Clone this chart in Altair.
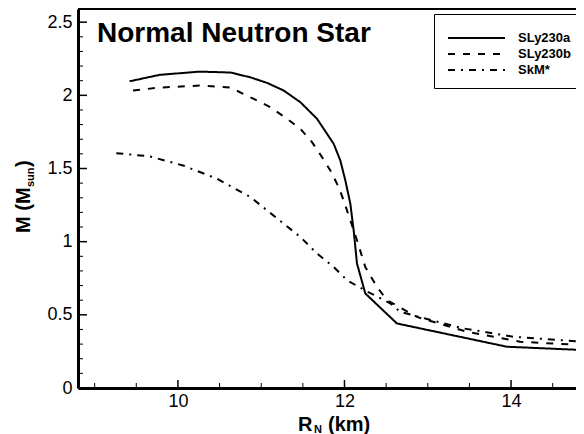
import altair as alt
import pandas as pd

# ---------------- data ----------------
series_names = ["SLy230a", "SLy230b", "SkM*"]

sly230a_R = [9.42, 9.78, 10.26, 10.63, 10.87, 11.07, 11.27, 11.47, 11.67, 11.87, 11.95, 12.01, 12.07, 12.11, 12.15, 12.25, 12.63, 13.95, 14.88]
sly230a_M = [2.096, 2.140, 2.162, 2.156, 2.123, 2.085, 2.033, 1.953, 1.840, 1.669, 1.555, 1.419, 1.260, 1.078, 0.851, 0.646, 0.441, 0.282, 0.259]

sly230b_R = [9.46, 9.78, 10.26, 10.63, 10.91, 11.11, 11.31, 11.47, 11.61, 11.73, 11.83, 11.93, 11.99, 12.07, 12.15, 12.25, 12.39, 12.51, 12.87, 13.47, 14.11, 14.88]
sly230b_M = [2.033, 2.053, 2.067, 2.053, 1.976, 1.919, 1.840, 1.771, 1.680, 1.578, 1.487, 1.373, 1.282, 1.146, 1.010, 0.827, 0.691, 0.600, 0.486, 0.384, 0.316, 0.293]

skm_R = [9.26, 9.66, 10.06, 10.47, 10.87, 11.27, 11.47, 11.67, 11.87, 12.03, 12.23, 12.55, 12.67, 12.99, 13.43, 14.03, 14.87]
skm_M = [1.605, 1.583, 1.521, 1.430, 1.305, 1.123, 1.032, 0.919, 0.827, 0.737, 0.672, 0.578, 0.520, 0.472, 0.407, 0.350, 0.316]

x_major = [10, 12, 14]
x_minor = [9, 9.5, 10.5, 11, 11.5, 12.5, 13, 13.5, 14.5]
y_major = [0, 0.5, 1, 1.5, 2, 2.5]
y_minor = [0.1, 0.2, 0.3, 0.4, 0.6, 0.7, 0.8, 0.9, 1.1, 1.2, 1.3, 1.4,
           1.6, 1.7, 1.8, 1.9, 2.1, 2.2, 2.3, 2.4]

rows = []
for name, R, M in [("SLy230a", sly230a_R, sly230a_M),
                   ("SLy230b", sly230b_R, sly230b_M),
                   ("SkM*", skm_R, skm_M)]:
    for i, (r, m) in enumerate(zip(R, M)):
        rows.append({"series": name, "R": r, "M": m, "i": i})
df = pd.DataFrame(rows)

FONT = "Liberation Sans"
W, H = 498, 379

x_scale = alt.Scale(domain=[8.8, 14.78], nice=False, zero=False)
y_scale = alt.Scale(domain=[0, 2.59], nice=False, zero=False)

x_axis = alt.Axis(values=x_major, title=None, tickSize=0, labelPadding=4,
                  domainWidth=3, domainColor="black", grid=False, format="~g",
                  labelFont=FONT, labelFontSize=18, labelColor="black")
y_axis = alt.Axis(values=y_major, title=None, tickSize=0, labelPadding=6,
                  domainWidth=3, domainColor="black", grid=False, format="~g",
                  labelFont=FONT, labelFontSize=18, labelColor="black")

legend = alt.Legend(title=" ", titleFontSize=6, titlePadding=0,
                    orient="none", legendX=356, legendY=5, padding=10,
                    strokeColor="black", fillColor="white", cornerRadius=0,
                    symbolType="stroke", symbolSize=3249, symbolStrokeWidth=2,
                    symbolStrokeColor="black", symbolOffset=3, labelOffset=12,
                    clipHeight=16, rowPadding=0,
                    labelFont=FONT, labelFontSize=13, labelFontWeight="bold",
                    labelColor="black")

lines = alt.Chart(df).mark_line(color="black", strokeWidth=2, clip=True).encode(
    x=alt.X("R:Q", scale=x_scale, axis=x_axis),
    y=alt.Y("M:Q", scale=y_scale, axis=y_axis),
    strokeDash=alt.StrokeDash(
        "series:N",
        scale=alt.Scale(domain=series_names, range=[[1, 0], [7, 8], [7, 6, 2, 6]]),
        legend=legend),
    order="i:Q",
)

def yticks(vals, length, width):
    return alt.Chart(pd.DataFrame({"M": vals})).mark_rule(color="black", strokeWidth=width).encode(
        y=alt.Y("M:Q", scale=y_scale, axis=y_axis),
        x=alt.value(0), x2=alt.value(length))

def xticks(vals, length, width):
    return alt.Chart(pd.DataFrame({"R": vals})).mark_rule(color="black", strokeWidth=width).encode(
        x=alt.X("R:Q", scale=x_scale, axis=x_axis),
        y=alt.value(H), y2=alt.value(H - length))

def txt(s, x, y, size, angle=0):
    return alt.Chart(alt.Data(values=[{"t": s}])).mark_text(
        text=s, font=FONT, fontWeight="bold", fontSize=size, align="left",
        baseline="alphabetic", angle=angle, color="black").encode(
        x=alt.value(x), y=alt.value(y))

top_line = alt.Chart(alt.Data(values=[{"t": 0}])).mark_rule(color="black", strokeWidth=2).encode(
    x=alt.value(0), x2=alt.value(W), y=alt.value(0))

chart = alt.layer(
    lines,
    yticks(y_major, 9, 1.5), yticks(y_minor, 5, 1),
    xticks(x_major, 8, 1.5), xticks(x_minor, 5, 1),
    top_line,
    txt("Normal Neutron Star", 19, 33, 28),
    txt("R", 220, 422, 20), txt("N", 236, 424, 11), txt("(km)", 250, 422, 20),
    txt("M (M", -48, 224, 20, 270), txt("sun", -44, 178, 11, 270), txt(")", -48, 158, 20, 270),
).properties(
    width=W, height=H,
    autosize=alt.AutoSizeParams(type="none"),
    padding={"left": 70, "top": 1, "right": 0, "bottom": 46},
).configure_view(stroke=None)

chart.save("out.html", embed_options={"renderer": "svg", "actions": False})
